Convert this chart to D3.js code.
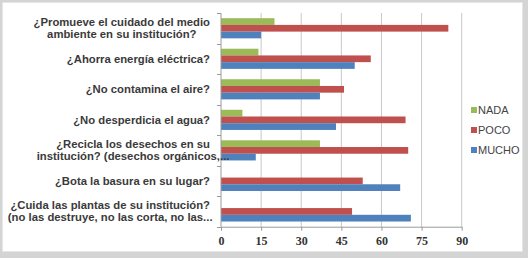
<!DOCTYPE html>
<html>
<head>
<meta charset="utf-8">
<script src="https://cdn.jsdelivr.net/npm/d3@7"></script>
<style>
  body { margin: 0; background: #fff; }
  svg { display: block; }
</style>
</head>
<body>
<script>
// categories, top to bottom (each label split into its wrapped lines)
var categories = [
    ["¿Promueve el cuidado del medio", "ambiente en su institución?"],
    ["¿Ahorra energía eléctrica?"],
    ["¿No contamina el aire?"],
    ["¿No desperdicia el agua?"],
    ["¿Recicla los desechos en su", "institución? (desechos orgánicos,..."],
    ["¿Bota la basura en su lugar?"],
    ["¿Cuida las plantas de su institución?", "(no las destruye, no las corta, no las..."]
];
var nada  = [20, 14, 37, 8, 37, 0, 0];
var poco  = [85, 56, 46, 69, 70, 53, 49];
var mucho = [15, 50, 37, 43, 13, 67, 71];
var seriesNames = ["NADA", "POCO", "MUCHO"];
var seriesColors = ["#9bbb59", "#c0504d", "#4f81bd"];
var ticks = [0, 15, 30, 45, 60, 75, 90];

var w = 528;
var h = 258;
var plotLeft = 221, plotRight = 461.7, plotTop = 13, plotBottom = 226.7;

var svg = d3.select("body")
    .append("svg")
    .attr("width", w)
    .attr("height", h);

// frame
svg.append("rect")
    .attr("x", 0).attr("y", 0).attr("width", w).attr("height", h)
    .attr("fill", "#d4d4d4");
svg.append("rect")
    .attr("x", 2.5).attr("y", 2.5).attr("width", 520).attr("height", 249)
    .attr("fill", "#fff")
    .attr("stroke", "#e6e6e6");

var xScale = d3.scaleLinear()
    .domain([0, 90])
    .range([plotLeft, plotRight]);

var yScale = d3.scaleBand()
    .domain(d3.range(categories.length))
    .range([plotTop, plotBottom])
    .paddingInner(0.34)
    .paddingOuter(0.17);

var sScale = d3.scaleBand()
    .domain(d3.range(3))
    .range([0, yScale.bandwidth()]);

// gridlines
svg.append("g")
    .selectAll("line")
    .data(ticks.slice(1))
    .enter()
    .append("line")
    .attr("x1", function(d) { return xScale(d); })
    .attr("x2", function(d) { return xScale(d); })
    .attr("y1", plotTop)
    .attr("y2", plotBottom)
    .attr("stroke", "#c8c8c8")
    .attr("stroke-width", 1);

// bars
var rows = categories.map(function(c, i) { return [nada[i], poco[i], mucho[i]]; });

var groups = svg.append("g")
    .selectAll("g")
    .data(rows)
    .enter()
    .append("g")
    .attr("transform", function(d, i) { return "translate(0," + yScale(i) + ")"; });

groups.selectAll("rect")
    .data(function(d) { return d; })
    .enter()
    .append("rect")
    .attr("x", xScale(0))
    .attr("y", function(d, j) { return sScale(j); })
    .attr("width", function(d) { return xScale(d) - xScale(0); })
    .attr("height", sScale.bandwidth())
    .attr("fill", function(d, j) { return seriesColors[j]; });

// x axis
var xAxis = d3.axisBottom(xScale)
    .tickValues(ticks)
    .tickSize(4)
    .tickSizeOuter(0);

var gx = svg.append("g")
    .attr("transform", "translate(0," + plotBottom + ")")
    .call(xAxis);
gx.select(".domain").attr("stroke", "#9a9a9a");
gx.selectAll(".tick line").attr("stroke", "#9a9a9a");
gx.selectAll(".tick text")
    .attr("dy", "0.95em")
    .attr("font-family", "Liberation Serif")
    .attr("font-weight", "bold")
    .attr("font-size", "12px")
    .attr("fill", "#333");

// y axis line with ticks at band boundaries
var bounds = d3.range(categories.length + 1).map(function(i) {
    return plotTop + i * yScale.step();
});
svg.append("line")
    .attr("x1", plotLeft).attr("x2", plotLeft)
    .attr("y1", plotTop).attr("y2", plotBottom)
    .attr("stroke", "#9a9a9a");
svg.append("g")
    .selectAll("line")
    .data(bounds)
    .enter()
    .append("line")
    .attr("x1", plotLeft - 4).attr("x2", plotLeft)
    .attr("y1", function(d) { return Math.round(d) + 0.5; })
    .attr("y2", function(d) { return Math.round(d) + 0.5; })
    .attr("stroke", "#9a9a9a");

// category labels
var labels = svg.append("g")
    .selectAll("text")
    .data(categories)
    .enter()
    .append("text")
    .attr("font-family", "Liberation Sans")
    .attr("font-weight", "bold")
    .attr("font-size", "11.3px")
    .attr("fill", "#3a3a3a")
    .attr("text-anchor", "middle");

labels.each(function(lines, i) {
    var t = d3.select(this);
    var cy = yScale(i) + yScale.bandwidth() / 2;
    var lh = 12;
    // measure the first line so wrapped lines are centered under it
    var tmp = t.append("tspan").text(lines[0]);
    var wd = tmp.node().getComputedTextLength();
    tmp.remove();
    var cx = 210 - wd / 2;
    lines.forEach(function(l, k) {
        t.append("tspan")
            .attr("x", cx)
            .attr("y", cy + (k - (lines.length - 1) / 2) * lh)
            .attr("dy", "0.35em")
            .text(l);
    });
});

// legend
var legend = svg.append("g")
    .selectAll("g")
    .data(seriesNames)
    .enter()
    .append("g")
    .attr("transform", function(d, i) { return "translate(471," + (110 + i * 20) + ")"; });

legend.append("rect")
    .attr("x", 0).attr("y", -3)
    .attr("width", 6).attr("height", 6)
    .attr("fill", function(d, i) { return seriesColors[i]; });

legend.append("text")
    .attr("x", 7)
    .attr("y", 0)
    .attr("dy", "0.35em")
    .attr("font-family", "Liberation Sans")
    .attr("font-size", "11px")
    .attr("fill", "#444")
    .text(function(d) { return d; });
</script>
</body>
</html>
